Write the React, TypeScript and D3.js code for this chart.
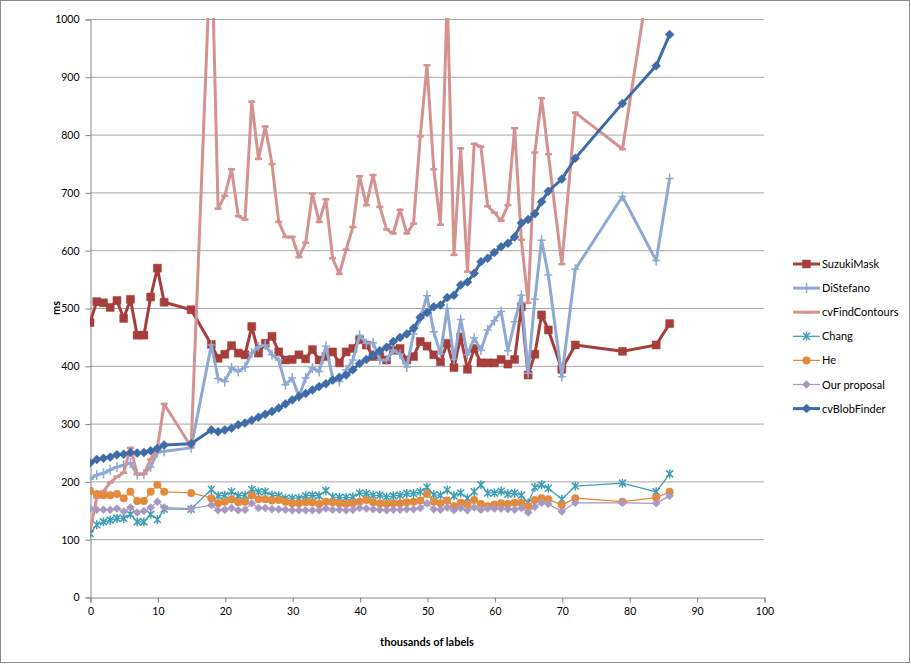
import { useEffect, useRef } from "react";
import * as d3 from "d3";

// thousands of labels (shared by all series)
const xs = [
  0, 1, 2, 3, 4, 5, 6, 7, 8, 9, 10, 11, 15,
  18, 19, 20, 21, 22, 23, 24, 25, 26, 27, 28, 29, 30, 31, 32, 33, 34, 35, 36, 37,
  38, 39, 40, 41, 42, 43, 44, 45, 46, 47, 48, 49, 50, 51, 52, 53, 54, 55, 56, 57,
  58, 59, 60, 61, 62, 63, 64, 65, 66, 67, 68,
  70, 72, 79, 84, 86,
];

const suzukiMask = [
  475, 511, 509, 501, 513, 482, 515, 453, 453, 519, 569, 510, 497,
  437, 413, 420, 435, 422, 419, 468, 422, 439, 451,
  424, 410, 411, 419, 412, 428, 410, 416, 424, 405,
  424, 430, 445, 436, 416, 416, 410, 427, 430, 410,
  416, 442, 434, 419, 407, 439, 397, 450, 394, 430,
  405, 405, 405, 411, 403, 411, 502, 384, 420, 488,
  462,
  394, 436, 425, 436, 473,
];

const diStefano = [
  204, 211, 214, 220, 225, 228, 232, 212, 213, 225, 250, 252, 258,
  436, 378, 373, 396, 390, 398, 422, 433, 436, 419,
  410, 367, 379, 347, 379, 396, 390, 434, 379, 373,
  393, 410, 453, 439, 440, 410, 410, 427, 420, 398,
  455, 482, 521, 459, 421, 499, 411, 480, 419, 448,
  427, 462, 478, 494, 426, 476, 522, 387, 515, 617,
  557,
  381, 567, 693, 582, 724,
];

const cvFindContours = [
  113, 172, 183, 198, 208, 215, 258, 213, 213, 238, 258, 334, 260,
  1150, 672, 694, 740, 659, 653, 857, 758, 814, 749,
  649, 623, 623, 588, 613, 698, 649, 688, 586, 559,
  601, 640, 728, 678, 730, 675, 636, 629, 670, 629,
  646, 797, 920, 740, 644, 1040, 592, 776, 563, 784,
  779, 676, 665, 651, 678, 811, 618, 509, 769, 863,
  766,
  576, 838, 775, 1150, 1300,
];

const chang = [
  110, 125, 130, 133, 136, 136, 143, 130, 130, 143, 134, 152, 152,
  186, 175, 176, 182, 175, 176, 186, 182, 182, 176,
  175, 171, 171, 171, 175, 176, 175, 184, 173, 172,
  172, 173, 180, 179, 176, 176, 173, 175, 176, 179,
  179, 182, 190, 177, 176, 185, 175, 180, 171, 182,
  194, 180, 180, 183, 178, 180, 176, 163, 190, 194,
  188,
  169, 192, 197, 182, 213,
];

const he = [
  184, 178, 176, 176, 178, 171, 182, 166, 166, 182, 194, 182, 180,
  171, 162, 165, 169, 164, 165, 176, 169, 169, 167,
  168, 165, 162, 162, 164, 164, 161, 165, 164, 162,
  161, 162, 165, 168, 164, 162, 161, 162, 162, 164,
  165, 167, 178, 165, 162, 167, 157, 163, 160, 168,
  161, 157, 160, 162, 161, 163, 163, 157, 168, 171,
  169,
  159, 171, 165, 172, 182,
];

const ourProposal = [
  153, 151, 151, 151, 153, 148, 155, 146, 149, 155, 165, 155, 153,
  159, 150, 151, 154, 150, 151, 162, 154, 154, 152,
  152, 151, 150, 150, 150, 150, 150, 153, 151, 151,
  150, 151, 154, 153, 152, 151, 150, 151, 151, 152,
  152, 154, 162, 152, 151, 155, 150, 154, 150, 155,
  151, 153, 153, 153, 152, 151, 154, 146, 156, 163,
  161,
  148, 163, 163, 162, 175,
];

const cvBlobFinder = [
  232, 238, 240, 242, 246, 247, 250, 249, 250, 253, 257, 263, 265,
  289, 286, 289, 292, 298, 301, 306, 311, 316, 321,
  327, 334, 341, 347, 352, 358, 364, 369, 375, 380,
  384, 393, 404, 411, 419, 426, 432, 442, 449, 455,
  465, 484, 492, 502, 505, 518, 522, 540, 545, 560,
  580, 586, 596, 606, 612, 623, 647, 653, 663, 684,
  702,
  723, 759, 854, 919, 973,
];

const xTicks = [0, 10, 20, 30, 40, 50, 60, 70, 80, 90, 100];
const yTicks = [0, 100, 200, 300, 400, 500, 600, 700, 800, 900, 1000];

// marker paths
const square = "M-4,-4H4V4H-4Z";
const diamond = (r) => `M0,${-r}L${r},0L0,${r}L${-r},0Z`;
const plus = "M-4,0H4M0,-5V5";
const star = "M-3.5,-3.5L3.5,3.5M-3.5,3.5L3.5,-3.5M0,-4.5V4.5";
const dash = "M-3.5,0H3.5";

const series = [
  { name: "SuzukiMask", values: suzukiMask, color: "#A63E3B", width: 3, marker: square, fill: true },
  { name: "DiStefano", values: diStefano, color: "#8EA9D3", width: 3, marker: plus, fill: false, mw: 1.5 },
  { name: "cvFindContours", values: cvFindContours, color: "#D49290", width: 3, marker: dash, fill: false, mw: 2.5 },
  { name: "Chang", values: chang, color: "#3F9DB5", width: 1.25, marker: star, fill: false, mw: 1.5 },
  { name: "He", values: he, color: "#E48A3C", width: 1.25, marker: "circle", fill: true },
  { name: "Our proposal", values: ourProposal, color: "#A898C2", width: 1.25, marker: diamond(4), fill: true },
  { name: "cvBlobFinder", values: cvBlobFinder, color: "#3F6CA6", width: 3, marker: diamond(4.5), fill: true },
];

function Chart() {
  const ref = useRef(null);

  useEffect(() => {
    const svg = d3.select(ref.current);
    svg.selectAll("*").remove();

    const left = 90, right = 764, top = 19, bottom = 597;
    const font = "Lato, 'Open Sans', sans-serif";

    const x = d3.scaleLinear().domain([0, 100]).range([left, right]);
    const y = d3.scaleLinear().domain([0, 1000]).range([bottom, top]);

    svg.append("rect").attr("width", 911).attr("height", 665).attr("fill", "#fff");
    svg.append("rect")
      .attr("x", 0.5).attr("y", 0.5).attr("width", 909).attr("height", 662)
      .attr("fill", "none").attr("stroke", "#8c8c8c");

    // gridlines
    svg.append("g")
      .selectAll("line")
      .data(yTicks.slice(1))
      .enter()
      .append("line")
      .attr("x1", left).attr("x2", right)
      .attr("y1", (d) => y(d) + 0.5).attr("y2", (d) => y(d) + 0.5)
      .attr("stroke", "#a6a6a6").attr("stroke-width", 1);

    // axes
    const yAxis = svg.append("g")
      .attr("transform", `translate(${left + 0.5},0.5)`)
      .call(d3.axisLeft(y).tickValues(yTicks).tickFormat(d3.format("d")).tickSize(5).tickPadding(6));
    const xAxis = svg.append("g")
      .attr("transform", `translate(0.5,${bottom + 0.5})`)
      .call(d3.axisBottom(x).tickValues(xTicks).tickFormat(d3.format("d")).tickSize(5).tickPadding(5));
    [yAxis, xAxis].forEach((g) => {
      g.selectAll("path").attr("stroke", "#868686");
      g.selectAll("line").attr("stroke", "#868686");
      g.selectAll("text").attr("font-family", font).attr("font-size", 10.5).attr("fill", "#000");
    });

    svg.append("text")
      .attr("transform", `translate(60,${(top + bottom) / 2}) rotate(-90)`)
      .attr("text-anchor", "middle")
      .attr("font-family", font).attr("font-size", 11).attr("font-weight", "bold")
      .text("ms");
    svg.append("text")
      .attr("x", (left + right) / 2).attr("y", 646)
      .attr("text-anchor", "middle")
      .attr("font-family", font).attr("font-size", 11).attr("font-weight", "bold")
      .text("thousands of labels");

    // clip to plot area
    svg.append("clipPath").attr("id", "plot-clip")
      .append("rect").attr("x", left).attr("y", top - 1).attr("width", right - left).attr("height", bottom - top + 1);

    const plot = svg.append("g").attr("clip-path", "url(#plot-clip)");
    const line = d3.line().x((d, i) => x(xs[i])).y((d) => y(d));

    function drawMarker(sel, s) {
      if (s.marker === "circle") {
        sel.append("circle").attr("r", 4).attr("fill", s.color);
      } else {
        sel.append("path")
          .attr("d", s.marker)
          .attr("fill", s.fill ? s.color : "none")
          .attr("stroke", s.color)
          .attr("stroke-width", s.fill ? 0.5 : s.mw);
      }
    }

    series.forEach((s) => {
      const g = plot.append("g");
      g.append("path")
        .datum(s.values)
        .attr("d", line)
        .attr("fill", "none")
        .attr("stroke", s.color)
        .attr("stroke-width", s.width)
        .attr("stroke-linejoin", "round");
      g.selectAll("g.m")
        .data(s.values)
        .enter()
        .append("g")
        .attr("class", "m")
        .attr("transform", (d, i) => `translate(${x(xs[i])},${y(d)})`)
        .each(function () {
          drawMarker(d3.select(this), s);
        });
    });

    // legend
    const legend = svg.append("g");
    series.forEach((s, i) => {
      const ly = 264 + i * 24.1;
      const item = legend.append("g").attr("transform", `translate(0,${ly})`);
      item.append("line")
        .attr("x1", 793).attr("x2", 820)
        .attr("stroke", s.color).attr("stroke-width", s.width);
      const m = item.append("g").attr("transform", "translate(806.5,0)");
      drawMarker(m, s);
      item.append("text")
        .attr("x", 822).attr("y", 4)
        .attr("font-family", font).attr("font-size", 11)
        .text(s.name);
    });
  }, []);

  return <svg ref={ref} width={911} height={665} style={{ position: "absolute", left: 0, top: 0 }} />;
}

export default function App() {
  return <Chart />;
}
